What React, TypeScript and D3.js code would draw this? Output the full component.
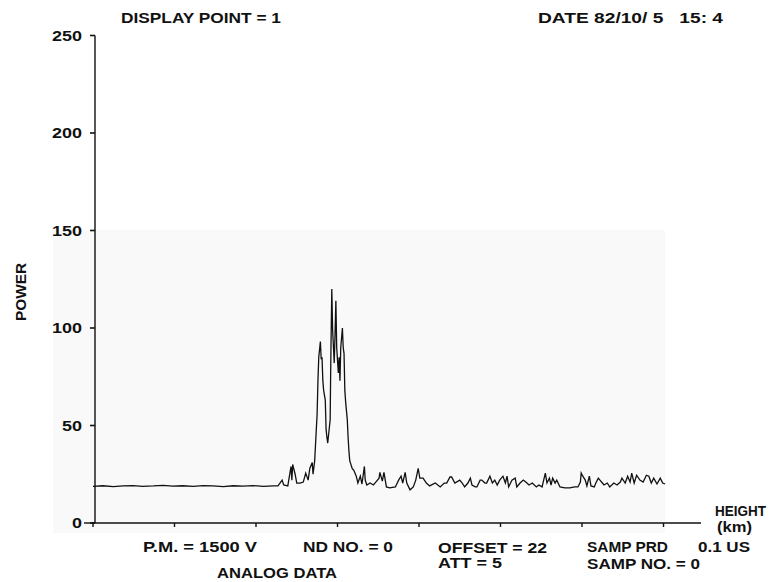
import React from "react";
import * as d3 from "d3";

const width = 769;
const height = 582;

// height (km) of each sample
const heights = [
  0, 0.12, 0.25, 0.37, 0.49, 0.61, 0.74, 0.86, 0.98, 1.1, 1.23, 1.35, 1.47, 1.6,
  1.72, 1.84, 1.96, 2.09, 2.21, 2.27, 2.32, 2.34, 2.39, 2.43, 2.44, 2.45, 2.48,
  2.5, 2.54, 2.58, 2.61, 2.64, 2.66, 2.69, 2.7, 2.72, 2.75, 2.76, 2.77, 2.79, 2.8,
  2.81, 2.82, 2.83, 2.85, 2.86, 2.87, 2.88, 2.9, 2.91, 2.915, 2.92, 2.93, 2.94,
  2.96, 2.97, 2.98, 2.99, 3.01, 3.02, 3.03, 3.04, 3.06, 3.07, 3.08, 3.09, 3.1,
  3.12, 3.13, 3.14, 3.15, 3.18, 3.2, 3.23, 3.25, 3.28, 3.3, 3.33, 3.34, 3.36, 3.4,
  3.44, 3.47, 3.51, 3.52, 3.55, 3.57, 3.6, 3.64, 3.71, 3.75, 3.78, 3.8, 3.83,
  3.85, 3.89, 3.93, 3.96, 3.99, 4.01, 4.05, 4.09, 4.13, 4.2, 4.26, 4.31, 4.34,
  4.38, 4.4, 4.44, 4.5, 4.53, 4.56, 4.6, 4.63, 4.65, 4.69, 4.71, 4.75, 4.77, 4.81,
  4.83, 4.87, 4.9, 4.93, 4.96, 4.99, 5.03, 5.06, 5.08, 5.1, 5.14, 5.18, 5.2, 5.24,
  5.28, 5.31, 5.35, 5.39, 5.44, 5.47, 5.51, 5.55, 5.57, 5.6, 5.62, 5.64, 5.67,
  5.69, 5.73, 5.79, 5.85, 5.91, 5.95, 5.98, 5.99, 6.01, 6.04, 6.06, 6.09, 6.11,
  6.15, 6.17, 6.2, 6.22, 6.25, 6.27, 6.31, 6.34, 6.39, 6.43, 6.47, 6.49, 6.53,
  6.56, 6.59, 6.61, 6.64, 6.67, 6.71, 6.75, 6.79, 6.82, 6.85, 6.88, 6.92, 6.96,
  6.99, 7.02,
];

// power at each of those heights
const powers = [
  18.8, 19.1, 18.7, 19.0, 19.2, 18.8, 19.0, 19.3, 18.9, 19.1, 18.8, 19.2, 19.0,
  18.7, 19.1, 18.9, 19.2, 18.8, 19.0, 19, 22, 19.5, 19, 29, 22, 30, 25, 20.5, 20.5,
  21, 25.6, 22, 28, 31, 25, 32, 56, 73, 85, 93, 84, 85, 73, 68, 63, 48, 44, 41, 49,
  53, 73, 90, 120, 99, 82, 97, 114, 90, 77, 85, 73, 90, 100, 90, 87, 68, 62, 53,
  44, 37, 32, 28, 27, 24, 20.5, 24, 20, 29, 22, 19.5, 20.5, 19.5, 21, 23, 26, 21.5,
  26, 18.5, 18, 18.5, 22, 24, 20.5, 26, 20.5, 17, 18.5, 22, 28, 23, 23, 20.5, 19,
  20.5, 18.5, 20.5, 20.5, 23.6, 23.6, 20.5, 22, 20.5, 18.5, 20.5, 23, 19.5, 18.5,
  18.5, 22, 22, 20.5, 20.5, 24, 20.5, 22, 19.5, 22, 24, 20.5, 24, 18.5, 22, 23,
  18.5, 20.5, 22, 21, 19.5, 20.5, 18.5, 19.5, 18.5, 25.6, 20.5, 23, 19.5, 23, 20.5,
  22, 18.5, 18, 18, 18.5, 18.5, 21, 25.6, 24, 22, 19, 24, 19, 18.5, 20.5, 23, 22,
  20.5, 19.5, 20.5, 18.5, 20.5, 19.5, 21, 23, 20.5, 24, 21, 25.6, 20.5, 24.5, 22,
  21, 24.5, 24, 20.5, 23, 20, 23, 20.5, 20,
];

const yTicks = [0, 50, 100, 150, 200, 250];
const xTicks = [0, 1, 2, 3, 4, 5, 6, 7];

const font = "'Liberation Sans', Arial, sans-serif";

// label text, left x, baseline y, width it spans in the reference
const labels: [string, number, number, number][] = [
  ["DISPLAY POINT = 1", 121, 23, 160],
  ["DATE 82/10/ 5   15: 4", 538, 23, 185],
  ["HEIGHT", 715, 516, 51],
  ["(km)", 717, 532, 35],
  ["P.M. = 1500 V", 143, 552, 114],
  ["ND NO. = 0", 303, 552, 90],
  ["ANALOG DATA", 217, 578, 120],
  ["OFFSET = 22", 438, 553, 109],
  ["ATT = 5", 438, 568, 64],
  ["SAMP PRD", 587, 552, 81],
  ["0.1 US", 698, 552, 52],
  ["SAMP NO. = 0", 587, 569, 113],
];

const App = () => {
  const x = d3.scaleLinear().domain([0, 7.46]).range([93, 701]);
  const y = d3.scaleLinear().domain([0, 250]).range([523, 35.5]);

  const pts: [number, number][] = heights.map((h, i) => [h, powers[i]]);
  const line = d3
    .line<[number, number]>()
    .x((d) => x(d[0]))
    .y((d) => y(d[1]));

  const txt = { fontFamily: font, fontWeight: 700, fontSize: 14, fill: "#111" };

  return (
    <svg
      width={width}
      height={height}
      style={{ position: "absolute", left: 0, top: 0, background: "#fff" }}
    >
      {/* faint scan shading */}
      <rect x={53} y={230} width={612} height={303} fill="#f9f9f9" />

      {/* y axis */}
      <line x1={95} x2={95} y1={y(250)} y2={y(0)} stroke="#111" strokeWidth={1.4} />
      {yTicks.map((t) => (
        <g key={t}>
          <line x1={90} x2={95} y1={y(t)} y2={y(t)} stroke="#111" strokeWidth={1.6} />
          <text
            x={82}
            y={y(t) + 5}
            textAnchor="end"
            textLength={t === 0 ? 10 : t === 50 ? 20 : 30}
            lengthAdjust="spacingAndGlyphs"
            {...txt}
          >
            {t}
          </text>
        </g>
      ))}
      <line x1={84} x2={95} y1={y(0)} y2={y(0)} stroke="#111" strokeWidth={1.4} />

      {/* x axis */}
      <line x1={x(0)} x2={x.range()[1]} y1={y(0)} y2={y(0)} stroke="#111" strokeWidth={1.6} />
      {xTicks.map((t) => (
        <line key={t} x1={x(t)} x2={x(t)} y1={y(0)} y2={y(0) + 4} stroke="#111" strokeWidth={1.4} />
      ))}

      {/* trace */}
      <path d={line(pts) || ""} fill="none" stroke="#111" strokeWidth={1.3} />

      <text
        transform="translate(26,292) rotate(-90)"
        textAnchor="middle"
        textLength={58}
        lengthAdjust="spacingAndGlyphs"
        {...txt}
      >
        POWER
      </text>
      {labels.map(([s, lx, ly, w]) => (
        <text
          key={s}
          x={lx}
          y={ly}
          textLength={w}
          lengthAdjust="spacingAndGlyphs"
          style={{ whiteSpace: "pre" }}
          {...txt}
        >
          {s}
        </text>
      ))}
    </svg>
  );
};

export default App;
